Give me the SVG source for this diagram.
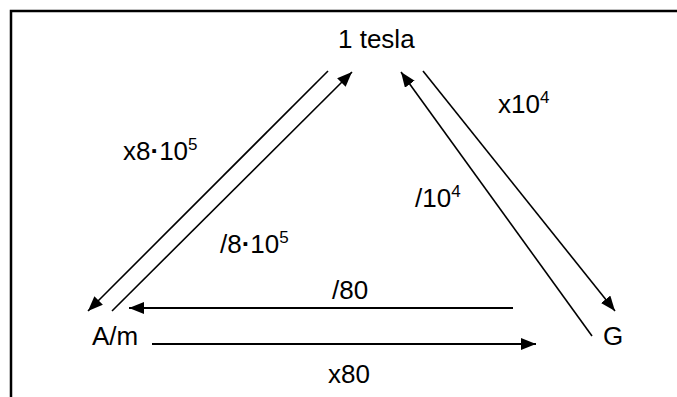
<svg xmlns="http://www.w3.org/2000/svg" width="677" height="397" viewBox="0 0 677 397">
<style>
text{font-family:"Liberation Sans",Arial,sans-serif;font-size:26px;fill:#000}
.sup{font-size:17px}
.dot{font-weight:bold}
.frame{stroke:#000;stroke-width:2.5;fill:none}
.c{stroke:#000;stroke-width:1.6;fill:none;marker-end:url(#ah)}
.h{stroke:#000;stroke-width:2.2;fill:none;marker-end:url(#ah)}
</style>
<defs>
<marker id="ah" markerUnits="userSpaceOnUse" markerWidth="16" markerHeight="12" refX="15" refY="6" orient="auto">
<path d="M0,0 L15,6 L0,12 z" fill="#000"/>
</marker>
</defs>
<rect width="677" height="397" fill="#fff"/>
<path class="frame" d="M11,397 V11 H677"/>
<g id="tesla"><text x="338" y="48">1 tesla</text></g>
<g id="am"><text x="92" y="345">A/m</text></g>
<g id="g"><text x="603" y="345">G</text></g>
<g id="connectors">
<line class="c" x1="328" y1="71" x2="88" y2="311"/>
<line class="c" x1="112" y1="311" x2="352" y2="72"/>
<line class="c" x1="592" y1="336" x2="401" y2="72"/>
<line class="c" x1="423" y1="71" x2="615" y2="311"/>
<line class="h" x1="513" y1="308" x2="129" y2="308"/>
<line class="h" x1="152" y1="344" x2="536" y2="344"/>
</g>
<g id="labels">
<text x="123" y="160">x8<tspan class="dot">·</tspan>10<tspan class="sup" dy="-10">5</tspan></text>
<text x="220" y="253">/8<tspan class="dot">·</tspan>10<tspan class="sup" dy="-10">5</tspan></text>
<text x="498" y="113">x10<tspan class="sup" dy="-10">4</tspan></text>
<text x="415" y="207">/10<tspan class="sup" dy="-10">4</tspan></text>
<text x="332" y="299">/80</text>
<text x="328" y="383">x80</text>
</g>
</svg>
